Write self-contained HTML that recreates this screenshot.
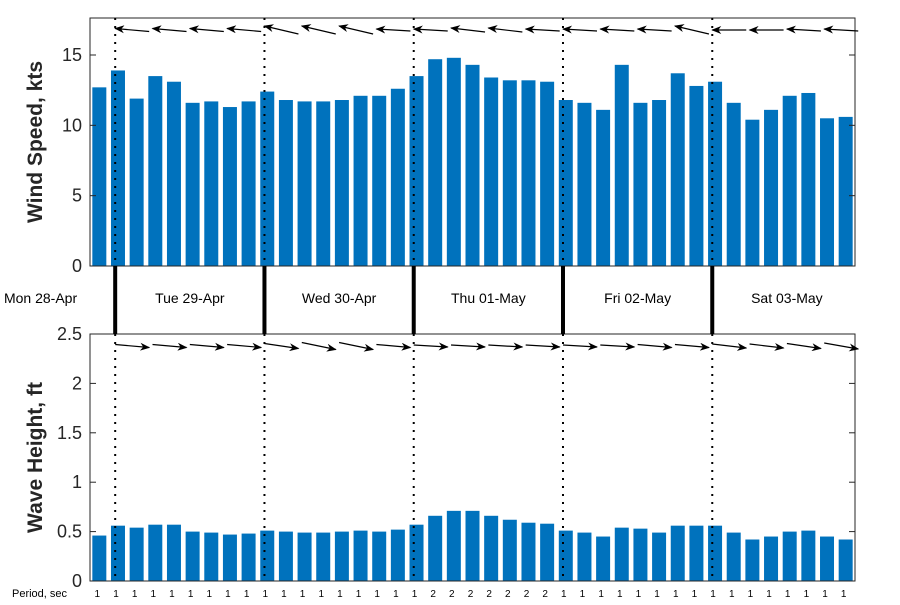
<!DOCTYPE html>
<html><head><meta charset="utf-8"><style>
body{margin:0;background:#fff}
svg{font-family:"Liberation Sans","DejaVu Sans",sans-serif}
</style></head><body>
<svg id="c" width="900" height="600"></svg>
<script>
const windSpeed=[12.7,13.9,11.9,13.5,13.1,11.6,11.7,11.3,11.7,12.4,11.8,11.7,11.7,11.8,12.1,12.1,12.6,13.5,14.7,14.8,14.3,13.4,13.2,13.2,13.1,11.8,11.6,11.1,14.3,11.6,11.8,13.7,12.8,13.1,11.6,10.4,11.1,12.1,12.3,10.5,10.6];
const waveHeight=[0.46,0.56,0.54,0.57,0.57,0.50,0.49,0.47,0.48,0.51,0.50,0.49,0.49,0.50,0.51,0.50,0.52,0.57,0.66,0.71,0.71,0.66,0.62,0.59,0.58,0.51,0.49,0.45,0.54,0.53,0.49,0.56,0.56,0.56,0.49,0.42,0.45,0.50,0.51,0.45,0.42];
const period=[1,1,1,1,1,1,1,1,1,1,1,1,1,1,1,1,1,1,2,2,2,2,2,2,2,1,1,1,1,1,1,1,1,1,1,1,1,1,1,1,1];
const dayLabels=["Mon 28-Apr","Tue 29-Apr","Wed 30-Apr","Thu 01-May","Fri 02-May","Sat 03-May","Sun"];
const windTicks=[0,5,10,15];
const waveTicks=[0,0.5,1,1.5,2,2.5];
const windDirTilt=[3,3,3,3,8,8,8,2,2,4,4,2,2,2,2,8,0,0,2,2];
const waveDirTilt=[-3,-3,-3,-3,-5,-7,-7,-3,-2,-2,-2,-2,-2,-2,-3,-3,-4,-4,-5,-6];
const ns="http://www.w3.org/2000/svg",svg=document.getElementById('c');
function el(t,a,p){const e=document.createElementNS(ns,t);for(const k in a)e.setAttribute(k,a[k]);(p||svg).appendChild(e);return e;}
const X0=90,X1=855,N=windSpeed.length,bw=(X1-X0)/N;
const x=i=>X0+(i+0.5)*bw;
const yW=v=>266-v*(266-18)/17.63;
const yH=v=>581-v*(581-334)/2.5;
const defs=el('defs',{});
const mk=el('marker',{id:'ah',markerWidth:10,markerHeight:8,refX:9,refY:4,orient:'auto',markerUnits:'userSpaceOnUse'},defs);
el('path',{d:'M0,0 L10,4 L0,8 L3,4 Z',fill:'#000'},mk);
function panel(yf,vals,ticks,title,top,bot,fmt,name){
  const g=el('g',{});
  vals.forEach((v,i)=>{const r=el('rect',{x:x(i)-bw*0.375,y:yf(v),width:bw*0.75,height:bot-yf(v),fill:'#0072bd'},g);
    });
  el('rect',{x:X0,y:top,width:X1-X0,height:bot-top,fill:'none',stroke:'#262626','stroke-width':1},g);
  ticks.forEach(t=>{const yy=yf(t);
    el('line',{x1:X0,x2:X0+6,y1:yy,y2:yy,stroke:'#262626'},g);el('line',{x1:X1,x2:X1-6,y1:yy,y2:yy,stroke:'#262626'},g);
    const tx=el('text',{x:X0-8,y:yy+6,'text-anchor':'end','font-size':18,fill:'#262626'},g);tx.textContent=fmt(t);
    });
  const tt=el('text',{transform:`translate(42,${(top+bot)/2}) rotate(-90)`,'text-anchor':'middle','font-size':21,'font-weight':'bold',fill:'#262626'},g);
  tt.textContent=title;
  for(let d=0;d<5;d++){const xx=x(0.85+8*d);
    const l=el('line',{x1:xx,x2:xx,y1:top,y2:bot,stroke:'#000','stroke-width':2,'stroke-dasharray':'2,6'},g);
    }
}
panel(yW,windSpeed,windTicks,'Wind Speed, kts',18,266,t=>t,'wind-panel');
panel(yH,waveHeight,waveTicks,'Wave Height, ft',334,581,t=>t===0?'0':String(t),'wave-panel');
// arrows
for(let k=0;k<20;k++){const xa=x(0.85+2*k);
  const a=el('line',{x1:xa+34,y1:30+windDirTilt[k]/2,x2:xa,y2:30-windDirTilt[k]/2,stroke:'#000','stroke-width':1.2,'marker-end':'url(#ah)'});
  
  const b=el('line',{x1:xa,y1:346+waveDirTilt[k]/2,x2:xa+34,y2:346-waveDirTilt[k]/2,stroke:'#000','stroke-width':1.2,'marker-end':'url(#ah)'});
  }
// day band
for(let d=0;d<5;d++){const xx=x(0.85+8*d);
  const l=el('line',{x1:xx,x2:xx,y1:266,y2:334,stroke:'#000','stroke-width':4});
  }
dayLabels.forEach((s,d)=>{const c=x(0.85+8*d-4);
  const t=el('text',{x:c,y:303,'text-anchor':'middle','font-size':14,fill:'#000'});t.textContent=s;
  });
const pl=el('text',{x:12,y:597,'font-size':11,fill:'#000'});pl.textContent='Period, sec';

period.forEach((p,i)=>{const t=el('text',{x:x(i)-2,y:597,'text-anchor':'middle','font-size':10,fill:'#000'});t.textContent=p;
  });
</script></body></html>
